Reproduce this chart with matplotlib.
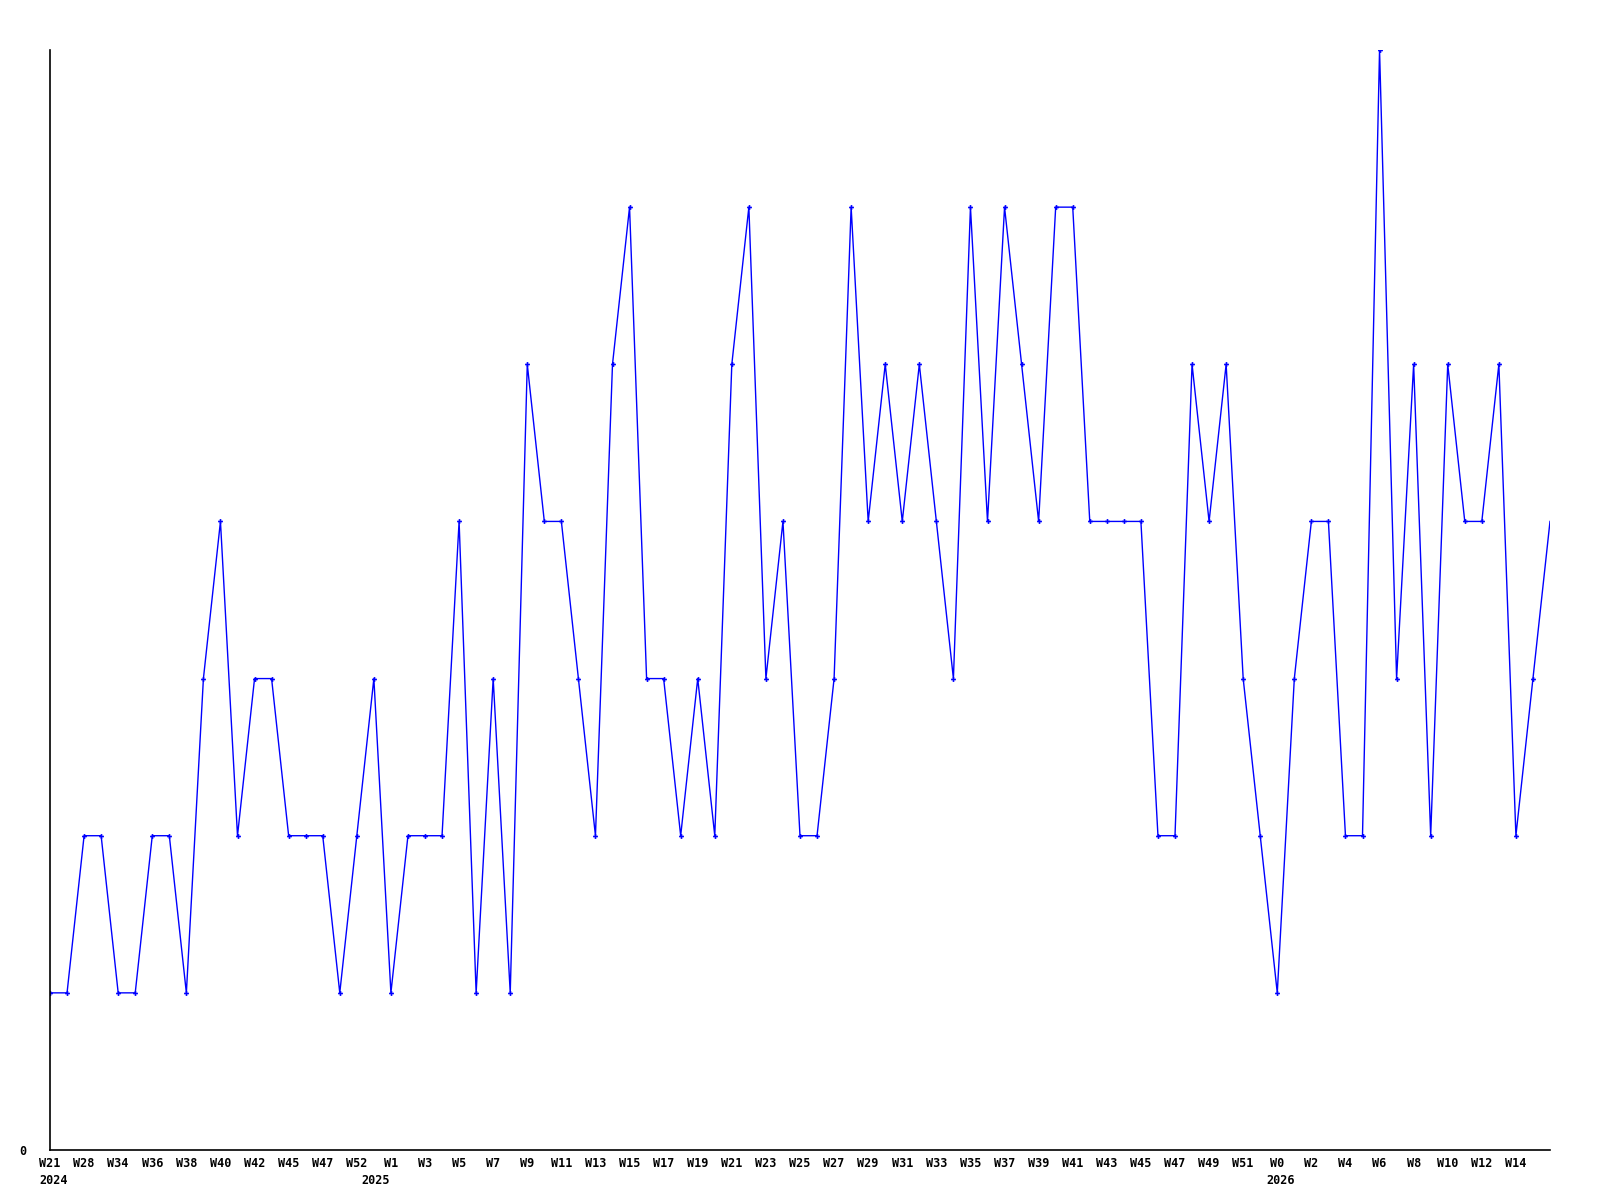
import numpy as np
import matplotlib
matplotlib.use('Agg')
import matplotlib.pyplot as plt

# weekly values, one per sample
values = [1, 1, 2, 2, 1, 1, 2, 2, 1, 3, 4, 2, 3, 3, 2, 2, 2, 1, 2, 3,
          1, 2, 2, 2, 4, 1, 3, 1, 5, 4, 4, 3, 2, 5, 6, 3, 3, 2, 3, 2,
          5, 6, 3, 4, 2, 2, 3, 6, 4, 5, 4, 5, 4, 3, 6, 4, 6, 5, 4, 6,
          6, 4, 4, 4, 4, 2, 2, 5, 4, 5, 3, 2, 1, 3, 4, 4, 2, 2, 7, 3,
          5, 2, 5, 4, 4, 5, 2, 3, 4]

# labels on every second sample
week_labels = ['W21', 'W28', 'W34', 'W36', 'W38', 'W40', 'W42', 'W45', 'W47', 'W52',
               'W1', 'W3', 'W5', 'W7', 'W9', 'W11', 'W13', 'W15', 'W17', 'W19',
               'W21', 'W23', 'W25', 'W27', 'W29', 'W31', 'W33', 'W35', 'W37', 'W39',
               'W41', 'W43', 'W45', 'W47', 'W49', 'W51', 'W0', 'W2', 'W4', 'W6',
               'W8', 'W10', 'W12', 'W14']
years = ['2024', '2025', '2026']
year_pos = [0.2, 19.1, 72.2]

x = np.arange(len(values))
tick_pos = x[::2][:len(week_labels)]

fig = plt.figure(figsize=(16, 12), dpi=100)
ax = fig.add_axes([50 / 1600, 50 / 1200, 1500 / 1600, 1100 / 1200])

ax.plot(x, values, color='#0000ff', linewidth=1.0)
ax.plot(x[:-1], values[:-1], linestyle='none', marker='P', markersize=3.5,
        color='#0000ff', markeredgewidth=0)

ax.set_xlim(0, len(values) - 1)
ax.set_ylim(0, 7)

font = dict(family='DejaVu Sans Mono', fontweight='bold', fontsize=8.5)

ax.set_xticks(tick_pos)
ax.set_xticklabels(week_labels, **font)
ax.set_yticks([0])
ax.set_yticklabels(['0'], **font)
ax.tick_params(axis='x', length=0, pad=5)
ax.tick_params(axis='y', length=0, pad=17)

for yr, pos in zip(years, year_pos):
    ax.annotate(yr, xy=(pos, 0), xycoords=('data', 'axes fraction'),
                xytext=(0, -17), textcoords='offset points',
                ha='center', va='top', **font)

for s in ['top', 'right']:
    ax.spines[s].set_visible(False)
for s in ['left', 'bottom']:
    ax.spines[s].set_linewidth(1.2)
    ax.spines[s].set_color('black')

fig.savefig('out.png', dpi=100, facecolor='white')
